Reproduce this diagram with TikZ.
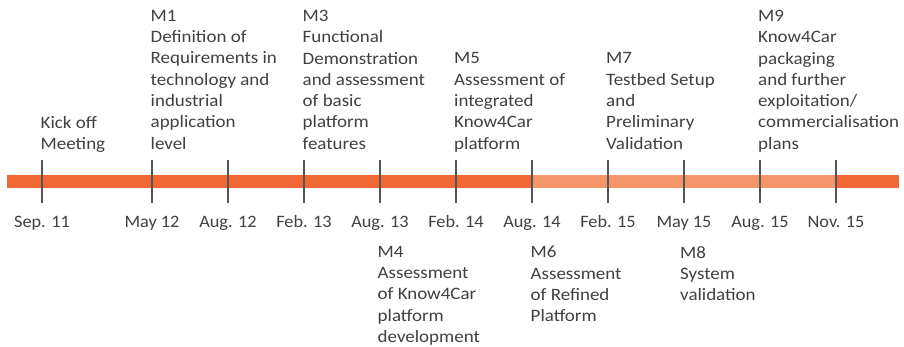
\documentclass[tikz,border=0pt]{standalone}
\usepackage{fontspec}
\newfontfamily\lblfont{Carlito}[FakeStretch=1.09]
\newfontfamily\datefont{Carlito}[FakeStretch=1.05]
\definecolor{barDark}{HTML}{F26835}
\definecolor{barLight}{HTML}{F5956A}
\definecolor{tickGray}{HTML}{555555}
\definecolor{txtGray}{HTML}{404040}
\begin{document}
\begin{tikzpicture}[x=1pt,y=-1pt,
  tickline/.style={draw=tickGray,line width=2pt},
  datelbl/.style={anchor=base,inner sep=0pt,text=txtGray,font=\datefont\fontsize{17.4}{21.3}\selectfont},
  mslbl/.style={anchor=north west,inner sep=0pt,align=left,text=txtGray,font=\lblfont\fontsize{17.4}{21.3}\selectfont}]
\useasboundingbox (0,0) rectangle (904,347);
% bar
\fill[barDark] (7,175) rectangle (899,188);
\fill[barLight] (533,175) rectangle (836,188);
% ticks and dates
\foreach \nm/\x/\d in {t1/42/Sep. 11, t2/152/May 12, t3/228/Aug. 12, t4/304/Feb. 13, t5/380/Aug. 13, t6/456/Feb. 14, t7/532/Aug. 14, t8/608/Feb. 15, t9/684/May 15, t10/760/Aug. 15, t11/836/Nov. 15}{
  \coordinate (\nm top) at (\x,160);
  \coordinate (\nm bot) at (\x,203);
  \draw[tickline] (\nm top) -- (\nm bot);
  \node[datelbl] (\nm date) at (\x,228) {\d};
}
% upper labels
\node[mslbl] (kick) at (40.5,116) {Kick off\\Meeting};
\node[mslbl] (m1) at (150.5,10) {M1\\Definition of\\Requirements in\\technology and\\industrial\\application\\level};
\node[mslbl] (m3) at (302.5,10) {M3\\Functional\\Demonstration\\and assessment\\of basic\\platform\\features};
\node[mslbl] (m5) at (454,52.6) {M5\\Assessment of\\integrated\\Know4Car\\platform};
\node[mslbl] (m7) at (606,52.6) {M7\\Testbed Setup\\and\\Preliminary\\Validation};
\node[mslbl] (m9) at (758,10) {M9\\Know4Car\\packaging\\and further\\exploitation/\\commercialisation\\plans};
% lower labels
\node[mslbl] (m4) at (377.5,246) {M4\\Assessment\\of Know4Car\\platform\\development};
\node[mslbl] (m6) at (530.5,246) {M6\\Assessment\\of Refined\\Platform};
\node[mslbl] (m8) at (680,246) {M8\\System\\validation};
\end{tikzpicture}
\end{document}
